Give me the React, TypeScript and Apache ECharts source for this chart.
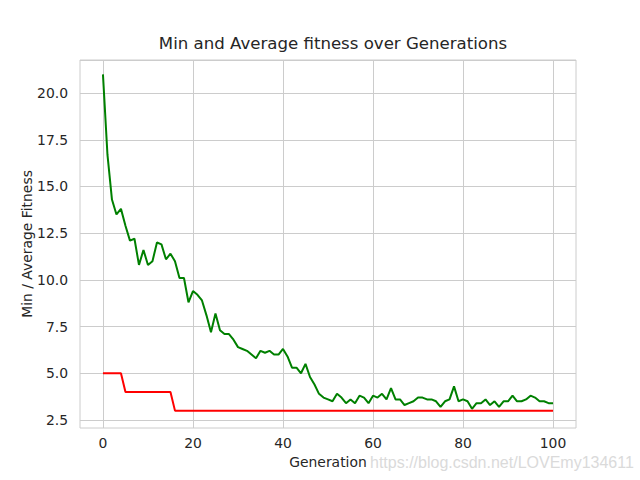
import React, { useEffect, useRef } from "react";
import * as echarts from "echarts";

const generations: number[] = Array.from({ length: 101 }, (_, i) => i);
const avgFitness: number[] = [
  21.0, 16.7, 14.3, 13.5, 13.8, 12.9, 12.1, 12.2, 10.8, 11.6,
  10.8, 11.0, 12.0, 11.9, 11.1, 11.4, 11.0, 10.1, 10.1, 8.8,
  9.4, 9.2, 8.9, 8.1, 7.2, 8.2, 7.3, 7.1, 7.1, 6.8,
  6.4, 6.3, 6.2, 6.0, 5.8, 6.2, 6.1, 6.2, 6.0, 6.0,
  6.3, 5.9, 5.3, 5.3, 5.0, 5.5, 4.8, 4.4, 3.9, 3.7,
  3.6, 3.5, 3.9, 3.7, 3.4, 3.6, 3.4, 3.8, 3.7, 3.4,
  3.8, 3.7, 3.9, 3.6, 4.2, 3.6, 3.6, 3.3, 3.4, 3.5,
  3.7, 3.7, 3.6, 3.6, 3.5, 3.2, 3.5, 3.6, 4.3, 3.5,
  3.6, 3.5, 3.1, 3.4, 3.4, 3.6, 3.3, 3.5, 3.2, 3.5,
  3.5, 3.8, 3.5, 3.5, 3.6, 3.8, 3.7, 3.5, 3.5, 3.4,
  3.4,
];
const minFitness: number[] = [
  5, 5, 5, 5, 5, 4, 4, 4, 4, 4,
  4, 4, 4, 4, 4, 4, 3, 3, 3, 3,
  3, 3, 3, 3, 3, 3, 3, 3, 3, 3,
  3, 3, 3, 3, 3, 3, 3, 3, 3, 3,
  3, 3, 3, 3, 3, 3, 3, 3, 3, 3,
  3, 3, 3, 3, 3, 3, 3, 3, 3, 3,
  3, 3, 3, 3, 3, 3, 3, 3, 3, 3,
  3, 3, 3, 3, 3, 3, 3, 3, 3, 3,
  3, 3, 3, 3, 3, 3, 3, 3, 3, 3,
  3, 3, 3, 3, 3, 3, 3, 3, 3, 3,
  3,
];
const xTickStart = 0;
const xTickEnd = 100;
const xTickStep = 20;
const yTickStart = 2.5;
const yTickStep = 2.5;

const FONT = "DejaVu Sans";
const TXT = "#262626";
const GRID = "#cccccc";

export default function App() {
  const ref = useRef<HTMLDivElement>(null);
  useEffect(() => {
    if (!ref.current) return;
    const chart = echarts.init(ref.current, undefined, { renderer: "svg" });
    chart.setOption({
      animation: false,
      backgroundColor: "#ffffff",
      textStyle: { fontFamily: FONT },
      title: {
        text: "Min and Average fitness over Generations",
        left: 328,
        top: 30,
        textAlign: "center",
        textStyle: { fontFamily: FONT, fontSize: 16.6, fontWeight: "normal", color: TXT },
      },
      grid: [
        { left: 80, right: 64, top: 60, bottom: 52, show: true, borderColor: GRID, borderWidth: 1, backgroundColor: "transparent" },
        { left: 103, right: 87, top: 60, bottom: 52 },
        { left: 80, right: 64, top: 60, bottom: 60 },
      ],
      xAxis: [
        { gridIndex: 0, type: "value", min: -5.1, max: 105.1, show: false },
        {
          gridIndex: 1, type: "value", min: xTickStart, max: xTickEnd, interval: xTickStep,
          axisLine: { show: false }, axisTick: { show: false },
          splitLine: { show: true, lineStyle: { color: GRID, width: 1 } },
          axisLabel: { fontFamily: FONT, fontSize: 13.9, color: TXT, margin: 8 },
          name: "Generation", nameLocation: "middle", nameGap: 22,
          nameTextStyle: { fontFamily: FONT, fontSize: 13.9, color: TXT },
        },
        { gridIndex: 2, type: "value", min: 0, max: 1, show: false },
      ],
      yAxis: [
        { gridIndex: 0, type: "value", min: 2.07, max: 21.77, show: false },
        { gridIndex: 1, type: "value", min: 0, max: 1, show: false },
        {
          gridIndex: 2, type: "value", min: yTickStart, max: 21.77, interval: yTickStep,
          axisLine: { show: false }, axisTick: { show: false },
          splitLine: { show: true, lineStyle: { color: GRID, width: 1 } },
          axisLabel: {
            fontFamily: FONT, fontSize: 13.9, color: TXT, margin: 12, showMaxLabel: false,
            formatter: (v: number) => v.toFixed(1),
          },
        },
      ],
      graphic: [
        {
          type: "text", x: 27, y: 244, rotation: Math.PI / 2,
          style: { text: "Min / Average Fitness", fill: TXT, font: `13.9px '${FONT}'`, align: "center", verticalAlign: "middle" },
        },
        {
          type: "text", x: 370, y: 462,
          style: { text: "https://blog.csdn.net/LOVEmy134611", fill: "#dadada", font: "16px 'Liberation Sans'", align: "left", verticalAlign: "middle" },
        },
      ],
      series: [
        {
          type: "line", xAxisIndex: 0, yAxisIndex: 0, showSymbol: false,
          data: generations.map((g, i) => [g, minFitness[i]]),
          lineStyle: { color: "#ff0000", width: 2 }, itemStyle: { color: "#ff0000" }, z: 3,
        },
        {
          type: "line", xAxisIndex: 0, yAxisIndex: 0, showSymbol: false,
          data: generations.map((g, i) => [g, avgFitness[i]]),
          lineStyle: { color: "#008000", width: 2 }, itemStyle: { color: "#008000" }, z: 2,
        },
      ],
    });
    return () => chart.dispose();
  }, []);
  return <div ref={ref} style={{ width: 640, height: 480, position: "absolute", left: 0, top: 0 }} />;
}
